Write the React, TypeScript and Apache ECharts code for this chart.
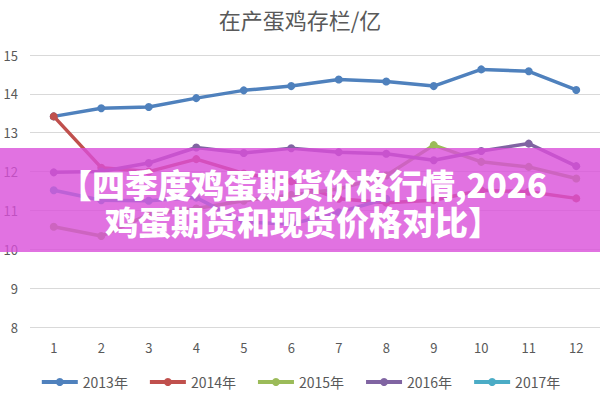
import React, { useEffect, useRef } from "react";
import * as echarts from "echarts";

const months = ["1", "2", "3", "4", "5", "6", "7", "8", "9", "10", "11", "12"];
const yTicks = [8, 9, 10, 11, 12, 13, 14, 15];
const s2013 = [13.42, 13.63, 13.66, 13.89, 14.09, 14.2, 14.37, 14.32, 14.2, 14.63, 14.58, 14.1];
const s2014 = [13.42, 12.1, 12.0, 12.32, 11.95, 11.75, 11.3, 11.2, 11.26, 11.52, 11.48, 11.31];
const s2015 = [10.58, 10.34, 10.9, 11.05, 11.25, 11.4, 11.55, 11.9, 12.68, 12.25, 12.12, 11.82];
const s2016 = [11.98, 12.0, 12.22, 12.62, 12.48, 12.6, 12.5, 12.46, 12.29, 12.53, 12.72, 12.14];
const s2017 = [11.52, 11.26, 11.25, 11.33, 10.7, 10.65, 10.95, 11.3];
const seriesNames = ["2013年", "2014年", "2015年", "2016年", "2017年"];
const seriesData = [s2013, s2014, s2015, s2016, s2017];
const colors = ["#4F81BD", "#C0504D", "#9BBB59", "#8064A2", "#4BACC6"];
const titleText = "在产蛋鸡存栏/亿";
const bannerLines = ["【四季度鸡蛋期货价格行情,2026", "鸡蛋期货和现货价格对比】"];

export default function App() {
  const ref = useRef<HTMLDivElement>(null);
  useEffect(() => {
    if (!ref.current) return;
    const chart = echarts.init(ref.current, null, { renderer: "svg" });
    const font = '"Noto Sans CJK SC", "Noto Sans", sans-serif';
    chart.setOption({
      animation: false,
      color: colors,
      textStyle: { fontFamily: font },
      title: {
        text: titleText,
        left: "center",
        top: 3,
        textStyle: { color: "#595959", fontSize: 22, fontWeight: "normal", fontFamily: font },
      },
      grid: { left: 30, right: 0, top: 55, bottom: 73 },
      legend: {
        bottom: 6,
        left: "center",
        itemWidth: 36,
        itemHeight: 10,
        itemGap: 20,
        lineStyle: { width: 4 },
        textStyle: { color: "#595959", fontSize: 14, fontFamily: font },
        data: seriesNames,
      },
      xAxis: {
        type: "category",
        data: months,
        boundaryGap: true,
        axisLine: { show: false },
        axisTick: { show: false },
        axisLabel: { color: "#595959", fontSize: 13, margin: 14 },
      },
      yAxis: {
        type: "value",
        min: yTicks[0],
        max: yTicks[yTicks.length - 1],
        interval: 1,
        axisLine: { show: false },
        axisTick: { show: false },
        axisLabel: { color: "#595959", fontSize: 13, margin: 12 },
        splitLine: { lineStyle: { color: "#d9d9d9", width: 1 } },
      },
      series: seriesNames.map((name, i) => ({
        name,
        type: "line",
        data: seriesData[i],
        symbol: "circle",
        symbolSize: 8,
        lineStyle: { width: 3.5, color: colors[i] },
        itemStyle: { color: colors[i] },
        z: 2 + i,
      })),
      graphic: [
        {
          type: "rect",
          left: 0,
          top: 148,
          shape: { width: 600, height: 104 },
          style: { fill: "rgba(217,79,217,0.8)" },
          z: 100,
        },
        {
          type: "text",
          x: 303,
          y: 202,
          style: {
            text: bannerLines.join("\n"),
            fill: "#ffffff",
            font: `900 33px ${font}`,
            lineHeight: 37,
            align: "center",
            verticalAlign: "middle",
          },
          z: 101,
        },
      ],
    });
    return () => chart.dispose();
  }, []);
  return (
    <div
      ref={ref}
      style={{ position: "fixed", left: 0, top: 0, width: 600, height: 400, background: "#fff" }}
    />
  );
}
